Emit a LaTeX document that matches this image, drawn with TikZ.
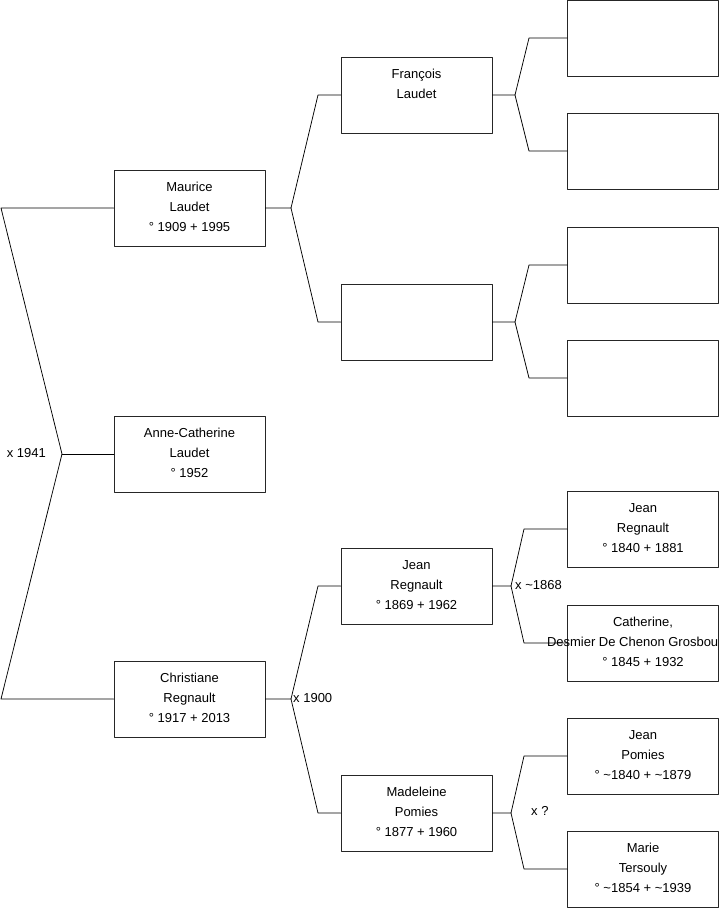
\documentclass[tikz,border=0pt]{standalone}
\usepackage{fontspec}
\setmainfont{Liberation Sans}

\tikzset{
	pbox/.style={draw=black!85, line width=0.75pt, minimum width=151pt, minimum height=76pt, inner sep=0pt},
	ptxt/.style={anchor=north, align=center, inner sep=0pt, font=\fontsize{13}{20}\selectfont},
	link/.style={black, line width=0.75pt},
	wed/.style={inner sep=0pt, font=\fontsize{13}{16}\selectfont}
}

\begin{document}
\begin{tikzpicture}[x=1pt, y=-1pt, line cap=round, line join=round]
		% Page window (pixel grid, y pointing down)
		\useasboundingbox (0,0) rectangle (719,908);
		
		% Column centres and text offset below box top
		\def\ca{189.5} \def\cb{416.5} \def\cc{643}
		\def\toff{-12.5pt}
		
		% Generation 1
		\node[pbox] (maurice) at (\ca,208) {};
		\node[pbox] (anne) at (\ca,454) {};
		\node[pbox] (christiane) at (\ca,699) {};
		\node[ptxt] (maurice-t) at ([yshift=\toff]maurice.north) {Maurice\\Laudet\\° 1909 + 1995};
		\node[ptxt] (anne-t) at ([yshift=\toff]anne.north) {Anne-Catherine\\Laudet\\° 1952};
		\node[ptxt] (christiane-t) at ([yshift=\toff]christiane.north) {Christiane\\Regnault\\° 1917 + 2013};
		
		% Generation 2
		\node[pbox] (francois) at (\cb,95) {};
		\node[pbox] (mmere) at (\cb,322) {};
		\node[pbox] (jean) at (\cb,586) {};
		\node[pbox] (madeleine) at (\cb,813) {};
		\node[ptxt] (francois-t) at ([yshift=\toff]francois.north) {François\\Laudet};
		\node[ptxt] (jean-t) at ([yshift=\toff]jean.north) {Jean\\Regnault\\° 1869 + 1962};
		\node[ptxt] (madeleine-t) at ([yshift=\toff]madeleine.north) {Madeleine\\Pomies\\° 1877 + 1960};
		
		% Generation 3
		\node[pbox] (ff-pere) at (\cc,38) {};
		\node[pbox] (ff-mere) at (\cc,151) {};
		\node[pbox] (mm-pere) at (\cc,265) {};
		\node[pbox] (mm-mere) at (\cc,378) {};
		\node[pbox] (jeanp) at (\cc,529) {};
		\node[pbox] (catherine) at (\cc,643) {};
		\node[pbox] (jeanpo) at (\cc,756) {};
		\node[pbox] (marie) at (\cc,869) {};
		\node[ptxt] (jeanp-t) at ([yshift=\toff]jeanp.north) {Jean\\Regnault\\° 1840 + 1881};
		\node[ptxt] (catherine-t) at ([yshift=\toff]catherine.north) {Catherine,\\\makebox[192pt][l]{Desmier De Chenon Grosbou}\\° 1845 + 1932};
		\node[ptxt] (jeanpo-t) at ([yshift=\toff]jeanpo.north) {Jean\\Pomies\\° \textasciitilde1840 + \textasciitilde1879};
		\node[ptxt] (marie-t) at ([yshift=\toff]marie.north) {Marie\\Tersouly\\° \textasciitilde1854 + \textasciitilde1939};
		
		% Fork points
		\coordinate (r-top) at (1,208); \coordinate (r-mid) at (62,454); \coordinate (r-bot) at (1,699);
		\coordinate (m-f) at (291,208); \coordinate (m-u) at (318,95); \coordinate (m-d) at (318,322);
		\coordinate (c-f) at (291,699); \coordinate (c-u) at (318,586); \coordinate (c-d) at (318,813);
		\coordinate (f-f) at (515,95); \coordinate (f-u) at (529,38); \coordinate (f-d) at (529,151);
		\coordinate (e-f) at (515,322); \coordinate (e-u) at (529,265); \coordinate (e-d) at (529,378);
		\coordinate (j-f) at (511,586); \coordinate (j-u) at (524,529); \coordinate (j-d) at (524,643);
		\coordinate (d-f) at (511,813); \coordinate (d-u) at (524,756); \coordinate (d-d) at (524,869);
		
		% Connectors
		\draw[link] (maurice.west) -- (r-top) -- (r-mid) -- (r-bot) -- (christiane.west);
		\draw[link] (r-mid) -- (anne.west);
		\draw[link] (maurice.east) -- (m-f) -- (m-u) -- (francois.west);
		\draw[link] (m-f) -- (m-d) -- (mmere.west);
		\draw[link] (christiane.east) -- (c-f) -- (c-u) -- (jean.west);
		\draw[link] (c-f) -- (c-d) -- (madeleine.west);
		\draw[link] (francois.east) -- (f-f) -- (f-u) -- (ff-pere.west);
		\draw[link] (f-f) -- (f-d) -- (ff-mere.west);
		\draw[link] (mmere.east) -- (e-f) -- (e-u) -- (mm-pere.west);
		\draw[link] (e-f) -- (e-d) -- (mm-mere.west);
		\draw[link] (jean.east) -- (j-f) -- (j-u) -- (jeanp.west);
		\draw[link] (j-f) -- (j-d) -- (catherine.west);
		\draw[link] (madeleine.east) -- (d-f) -- (d-u) -- (jeanpo.west);
		\draw[link] (d-f) -- (d-d) -- (marie.west);
		
		% Marriage labels
		\node[wed, anchor=base east] (w-1941) at (46,457) {x 1941};
		\node[wed, anchor=base west] (w-1900) at (293,702) {x 1900};
		\node[wed, anchor=base west] (w-1868) at (515,589) {x \textasciitilde1868};
		\node[wed, anchor=base west] (w-q) at (531,815) {x ?};
	\end{tikzpicture}
\end{document}
